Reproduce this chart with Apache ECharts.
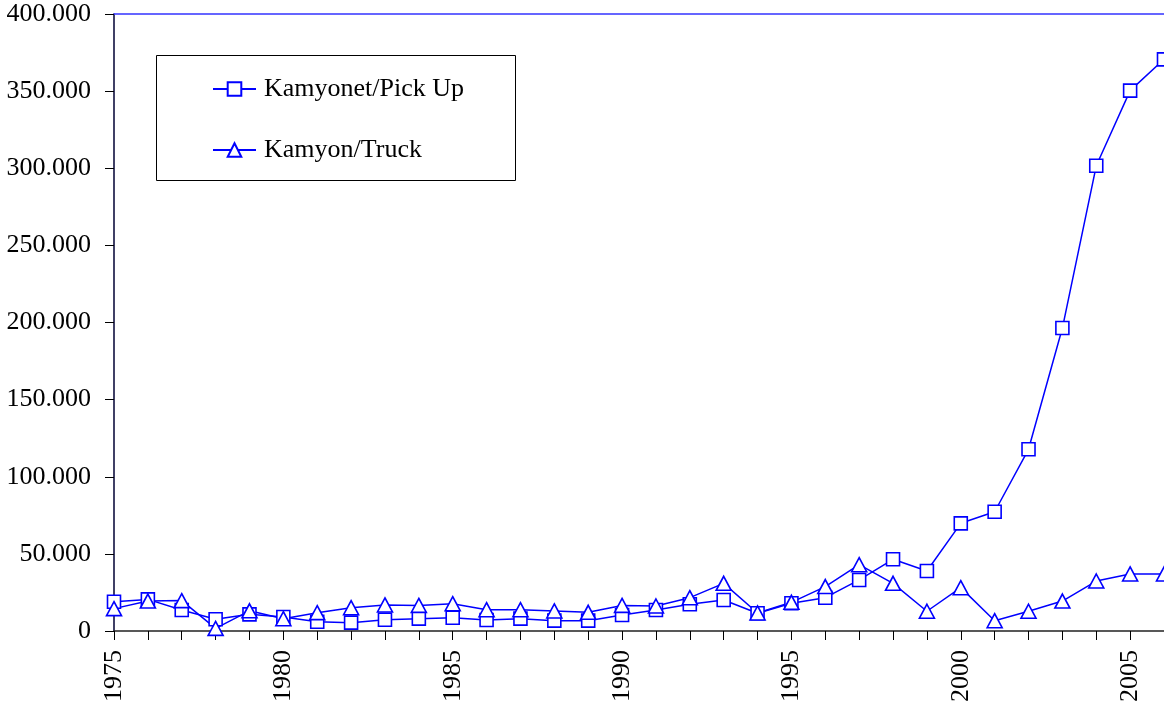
<!DOCTYPE html>
<html>
<head>
<meta charset="utf-8">
<script src="https://cdn.jsdelivr.net/npm/echarts@6/dist/echarts.min.js"></script>
<style>html,body{margin:0;padding:0;background:#fff}#c{width:1164px;height:709px}</style>
</head>
<body>
<div id="c"></div>
<script>
const years = ['1975','1976','1977','1978','1979','1980','1981','1982','1983','1984','1985','1986','1987','1988','1989','1990','1991','1992','1993','1994','1995','1996','1997','1998','1999','2000','2001','2002','2003','2004','2005','2006'];
const pickUp = [19000,20500,13600,7600,10800,9100,6000,5400,7300,8000,8600,7100,8000,6700,6700,10400,13600,17300,20100,11500,18000,21600,33100,46500,38900,69800,77300,117800,196400,301600,350300,370600];
const truck = [14500,19400,19700,1700,13100,8000,11900,15100,16900,16600,17700,13800,13800,13000,12100,16600,16200,21600,30900,11700,18600,28800,43000,30900,12800,28100,6700,12800,19400,32400,37000,37000];
const seriesNames = ['Kamyonet/Pick Up','Kamyon/Truck'];

const FONT = 'Liberation Serif';
const BLUE = '#0000ff';
function fmt(v){ return String(v).replace(/\B(?=(\d{3})+(?!\d))/g, '.'); }

const chart = echarts.init(document.getElementById('c'), null, {renderer:'canvas'});
chart.setOption({
  animation: false,
  textStyle: {fontFamily: FONT},
  grid: {left: 114, right: -6, top: 14, bottom: 78, containLabel: false},
  graphic: [{
    type: 'rect', shape: {x: 156.5, y: 55.5, width: 359, height: 125},
    style: {fill: '#fff', stroke: '#000', lineWidth: 1}, z: 5
  }],
  legend: {
    left: 212, top: 76, orient: 'vertical', itemGap: 35,
    itemWidth: 43, itemHeight: 17, padding: 0, z: 10,
    textStyle: {fontFamily: FONT, fontSize: 26, color: '#000', lineHeight: 26, padding: [0,0,0,3]},
    data: seriesNames
  },
  xAxis: [{
    type: 'category', data: years, boundaryGap: false,
    axisLine: {lineStyle: {color: '#222', width: 1.5}},
    axisTick: {show: true, interval: 0, length: 9, inside: false, lineStyle: {color: '#000', width: 1}},
    axisLabel: {interval: 4, rotate: 90, margin: 19, fontFamily: FONT, fontSize: 26, color: '#000'},
    splitLine: {show: false}
  }, {
    type: 'category', data: years, boundaryGap: false, position: 'top',
    axisLine: {show: true, lineStyle: {color: '#3333ff', width: 1.5}},
    axisTick: {show: false}, axisLabel: {show: false}, splitLine: {show: false}
  }],
  yAxis: {
    type: 'value', min: 0, max: 400000, interval: 50000,
    axisLine: {show: true, lineStyle: {color: '#000033', width: 1.5}},
    axisTick: {show: true, length: 9, lineStyle: {color: '#000', width: 1}},
    axisLabel: {margin: 23, fontFamily: FONT, fontSize: 26, color: '#000', formatter: fmt},
    splitLine: {show: false}
  },
  series: [{
    name: seriesNames[0], type: 'line', data: pickUp,
    symbol: 'rect', symbolSize: 13, showAllSymbol: true,
    lineStyle: {color: BLUE, width: 1.5},
    itemStyle: {color: '#fff', borderColor: BLUE, borderWidth: 1.6}
  }, {
    name: seriesNames[1], type: 'line', data: truck,
    symbol: 'triangle', symbolSize: [15, 14], showAllSymbol: true,
    lineStyle: {color: BLUE, width: 1.5},
    itemStyle: {color: '#fff', borderColor: BLUE, borderWidth: 1.6}
  }]
});
</script>
</body>
</html>
